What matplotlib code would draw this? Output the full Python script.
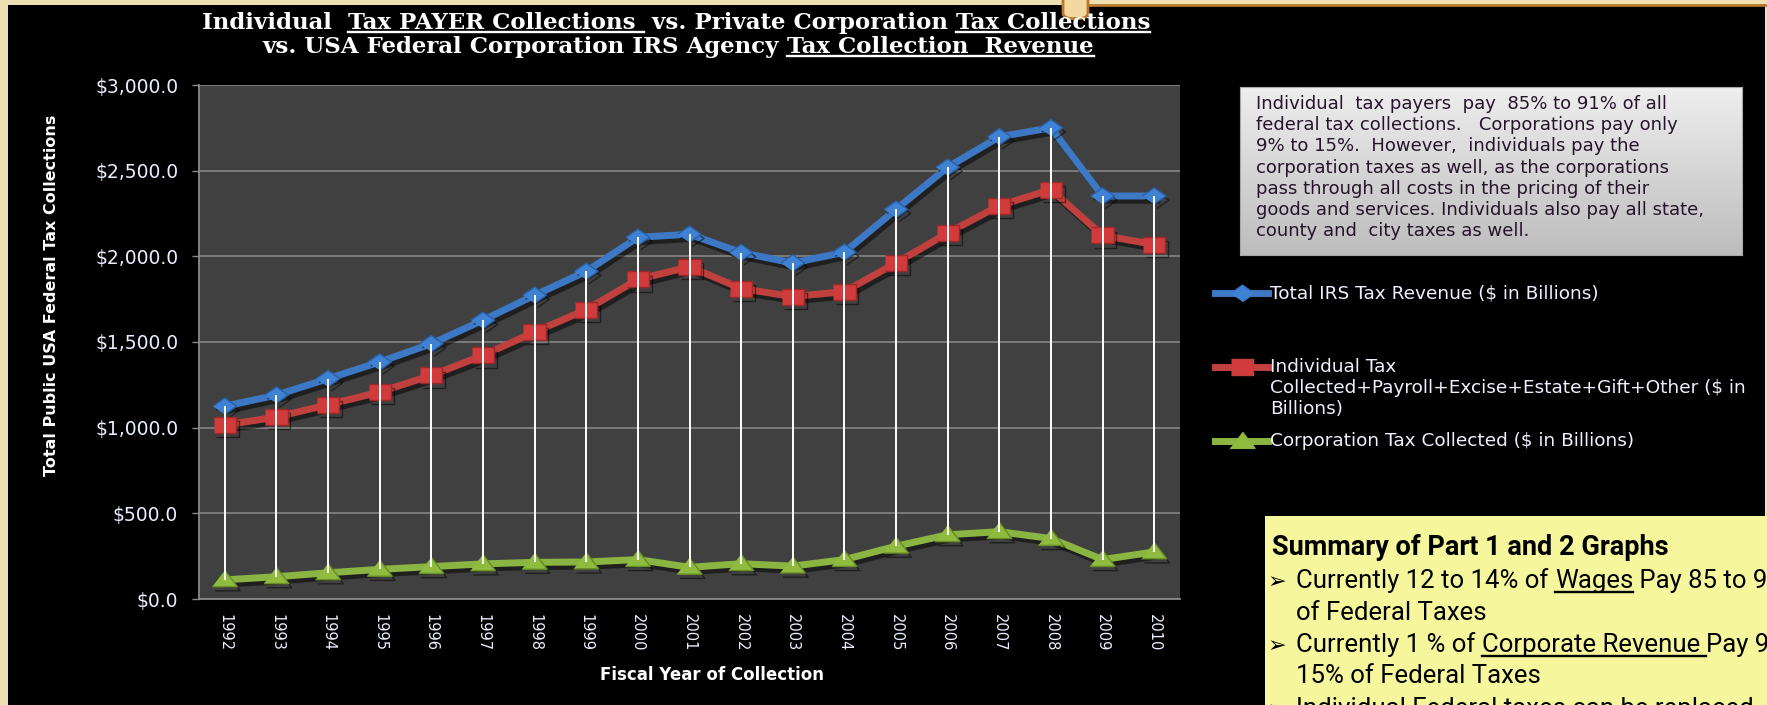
import numpy as np
import matplotlib
matplotlib.use("Agg")
import matplotlib.pyplot as plt
import matplotlib.patheffects as pe
from matplotlib.lines import Line2D
from matplotlib.patches import Rectangle, FancyBboxPatch
from matplotlib.ticker import MultipleLocator, FuncFormatter

# values ($ in billions)
years = ["1992", "1993", "1994", "1995", "1996", "1997", "1998", "1999", "2000", "2001",
         "2002", "2003", "2004", "2005", "2006", "2007", "2008", "2009", "2010"]
total_irs = [1125, 1190, 1286, 1383, 1490, 1627, 1773, 1912, 2111, 2129,
             2022, 1961, 2024, 2274, 2520, 2698, 2750, 2352, 2352]
individual = [1015, 1062, 1134, 1208, 1305, 1422, 1558, 1689, 1865, 1939,
              1812, 1765, 1794, 1961, 2136, 2296, 2390, 2122, 2069]
corporate = [112, 130, 153, 173, 189, 205, 214, 216, 230, 185,
             206, 192, 230, 308, 375, 393, 353, 230, 275]

series_labels = ["Total IRS Tax Revenue ($ in Billions)",
                 "Individual Tax\nCollected+Payroll+Excise+Estate+Gift+Other ($ in\nBillions)",
                 "Corporation Tax Collected ($ in Billions)"]

note_lines = ["Individual  tax payers  pay  85% to 91% of all",
              "federal tax collections.   Corporations pay only",
              "9% to 15%.  However,  individuals pay the",
              "corporation taxes as well, as the corporations",
              "pass through all costs in the pricing of their",
              "goods and services. Individuals also pay all state,",
              "county and  city taxes as well."]

W, H = 1767, 705
fig = plt.figure(figsize=(W / 100, H / 100), dpi=100)
fig.patch.set_facecolor("#efe0b2")
renderer = fig.canvas.get_renderer()


def fx(x):
    return x / W


def fy(y):
    return 1 - y / H


def text_w(s, **kw):
    # width of a string including trailing spaces
    t = fig.text(0, 0, s + "|", **kw)
    w = t.get_window_extent(renderer).width
    t.remove()
    t = fig.text(0, 0, "|", **kw)
    w -= t.get_window_extent(renderer).width
    t.remove()
    return w


def draw_runs(x0, y, runs, ul_dy, ul_lw, color, **kw):
    x = x0
    for s, ul in runs:
        w = text_w(s, **kw)
        fig.text(fx(x), fy(y), s, ha="left", va="baseline", color=color, **kw)
        if ul:
            fig.add_artist(Line2D([fx(x), fx(x + w)], [fy(y + ul_dy)] * 2,
                                  transform=fig.transFigure, color=color, lw=ul_lw))
        x += w


# black slide panel + top decoration
fig.add_artist(Rectangle((fx(8), 0), fx(1765) - fx(8), fy(5), transform=fig.transFigure,
                         facecolor="black", edgecolor="none", zorder=0))
fig.add_artist(Line2D([fx(1088), fx(1767)], [fy(5), fy(5)], transform=fig.transFigure,
                      color="#b8792a", lw=2))
fig.add_artist(FancyBboxPatch((fx(1063), fy(19)), fx(25), fy(0) - fy(19) + 0.03,
                              boxstyle="round,pad=0,rounding_size=0.008",
                              transform=fig.transFigure, facecolor="#f3d9a0",
                              edgecolor="#b8792a", lw=2))

# main chart
ax = fig.add_axes([fx(199), fy(599), fx(1180) - fx(199), fy(85) - fy(599)])
ax.set_facecolor("#404040")
x = np.arange(len(years))

shadow = [pe.SimpleLineShadow(offset=(2, -3), alpha=0.5, shadow_color="black"), pe.Normal()]
diamond = [(-1, 0), (0, 0.7), (1, 0), (0, -0.7)]
square = [(-1, -0.72), (1, -0.72), (1, 0.72), (-1, 0.72)]
triangle = [(-1, -0.55), (1, -0.55), (0, 0.75)]

ax.plot(x, total_irs, color="#3d78c4", lw=5, marker=diamond, ms=17,
        mfc="#3f82d4", mec="#2b5fa3", mew=1, path_effects=shadow, zorder=3)
ax.plot(x, individual, color="#c0403e", lw=5, marker=square, ms=16,
        mfc="#d23b3b", mec="#9a2828", mew=1, path_effects=shadow, zorder=3)
ax.plot(x, corporate, color="#8bb543", lw=5, marker=triangle, ms=18,
        mfc="#8fbb3e", mec="#6b8f28", mew=1, path_effects=shadow, zorder=3)
# high-low lines
ax.vlines(x, corporate, total_irs, colors="white", lw=1.4, zorder=4)

ax.set_xlim(-0.5, len(years) - 0.5)
ax.set_ylim(0, 3000)
ax.set_xticks(x)
ax.set_xticklabels(years)
ax.yaxis.set_major_locator(MultipleLocator(500))
ax.yaxis.set_major_formatter(FuncFormatter(lambda v, p: f"${v:,.1f}"))
ax.grid(axis="y", color="#858585", lw=1.2)
ax.set_axisbelow(True)
for side in ["top", "right"]:
    ax.spines[side].set_visible(False)
for side in ["left", "bottom"]:
    ax.spines[side].set_color("#8a8a8a")
    ax.spines[side].set_linewidth(1.3)
ax.tick_params(axis="y", length=5, width=1, color="#8a8a8a", pad=10,
               labelsize=13.5, labelcolor="#eaf0ff")
ax.tick_params(axis="x", length=0, pad=11, labelsize=10.5, labelcolor="#eaf0ff",
               labelrotation=-90)

fig.text(fx(52), fy(295), "Total Public USA Federal Tax Collections", rotation=90,
         ha="center", va="center", color="white", fontsize=11.5, fontweight="bold")
fig.text(fx(712), fy(675), "Fiscal Year of Collection", ha="center", va="center",
         color="white", fontsize=12, fontweight="bold")

# title with underlined parts
title_kw = dict(family="DejaVu Serif", fontweight="bold", fontsize=16.5)
line1 = [("Individual  ", False), ("Tax PAYER Collections ", True),
         (" vs. Private Corporation ", False), ("Tax Collections", True)]
line2 = [("vs. USA Federal Corporation IRS Agency ", False), ("Tax Collection  Revenue", True)]
w1 = sum(text_w(s, **title_kw) for s, _ in line1)
w2 = sum(text_w(s, **title_kw) for s, _ in line2)
draw_runs(676 - w1 / 2, 29, line1, 3, 1.7, "white", **title_kw)
draw_runs(678 - w2 / 2, 53, line2, 3, 1.7, "white", **title_kw)

# grey note box
nax = fig.add_axes([fx(1240), fy(255), fx(1742) - fx(1240), fy(87) - fy(255)])
grad = np.linspace(0, 1, 100).reshape(-1, 1)
nax.imshow(grad, aspect="auto", cmap=matplotlib.colors.LinearSegmentedColormap.from_list(
    "g", ["#eeeeee", "#bdbdbd"]), extent=[0, 1, 0, 1])
nax.set_xticks([])
nax.set_yticks([])
for sp in nax.spines.values():
    sp.set_color("#a8a8a8")
for i, s in enumerate(note_lines):
    fig.text(fx(1256), fy(104 + i * 21.2), s, va="center", ha="left",
             color="#26142a", fontsize=13)

# legend
leg_y = [293, 367, 441]
colors = ["#3d78c4", "#c0403e", "#8bb543"]
mfcs = ["#3f82d4", "#d23b3b", "#8fbb3e"]
markers = [diamond, square, triangle]
msizes = [17, 16, 18]
for yy, c, mf, mk, ms, lab in zip(leg_y, colors, mfcs, markers, msizes, series_labels):
    fig.add_artist(Line2D([fx(1215), fx(1241.5), fx(1268)], [fy(yy)] * 3,
                          transform=fig.transFigure, color=c, lw=5, marker=mk,
                          ms=ms, mfc=mf, mec=c, markevery=[1]))
    for j, part in enumerate(lab.split("\n")):
        fig.text(fx(1270), fy(yy + j * 21), part, va="center", ha="left",
                 color="#eef2ff", fontsize=13.3)

# yellow summary box
fig.add_artist(Rectangle((fx(1265), 0), fx(1767) - fx(1265), fy(516),
                         transform=fig.transFigure, facecolor="#f6f69d", edgecolor="none"))
box_kw = dict(family=["Roboto", "DejaVu Sans"], fontsize=18.5)
fig.text(fx(1272), fy(555), "Summary of Part 1 and 2 Graphs", ha="left", va="baseline",
         color="black", fontweight="bold", family=["Roboto", "DejaVu Sans"], fontsize=19.5)
bullets = [
    (588, True, [("Currently 12 to 14% of ", False), ("Wages", True), (" Pay 85 to 91%", False)]),
    (620, False, [("of Federal Taxes", False)]),
    (652, True, [("Currently 1 % of ", False), ("Corporate Revenue ", True), ("Pay 9% to", False)]),
    (683, False, [("15% of Federal Taxes", False)]),
    (716, True, [("Individual Federal taxes can be replaced", False)]),
]
for yy, has_bullet, runs in bullets:
    if has_bullet:
        fig.text(fx(1268), fy(yy), "\u27a2", family="DejaVu Sans", fontsize=16,
                 ha="left", va="baseline", color="black")
    draw_runs(1296, yy, runs, 4, 1.7, "black", **box_kw)

fig.savefig("out.png", dpi=100, facecolor=fig.get_facecolor())
